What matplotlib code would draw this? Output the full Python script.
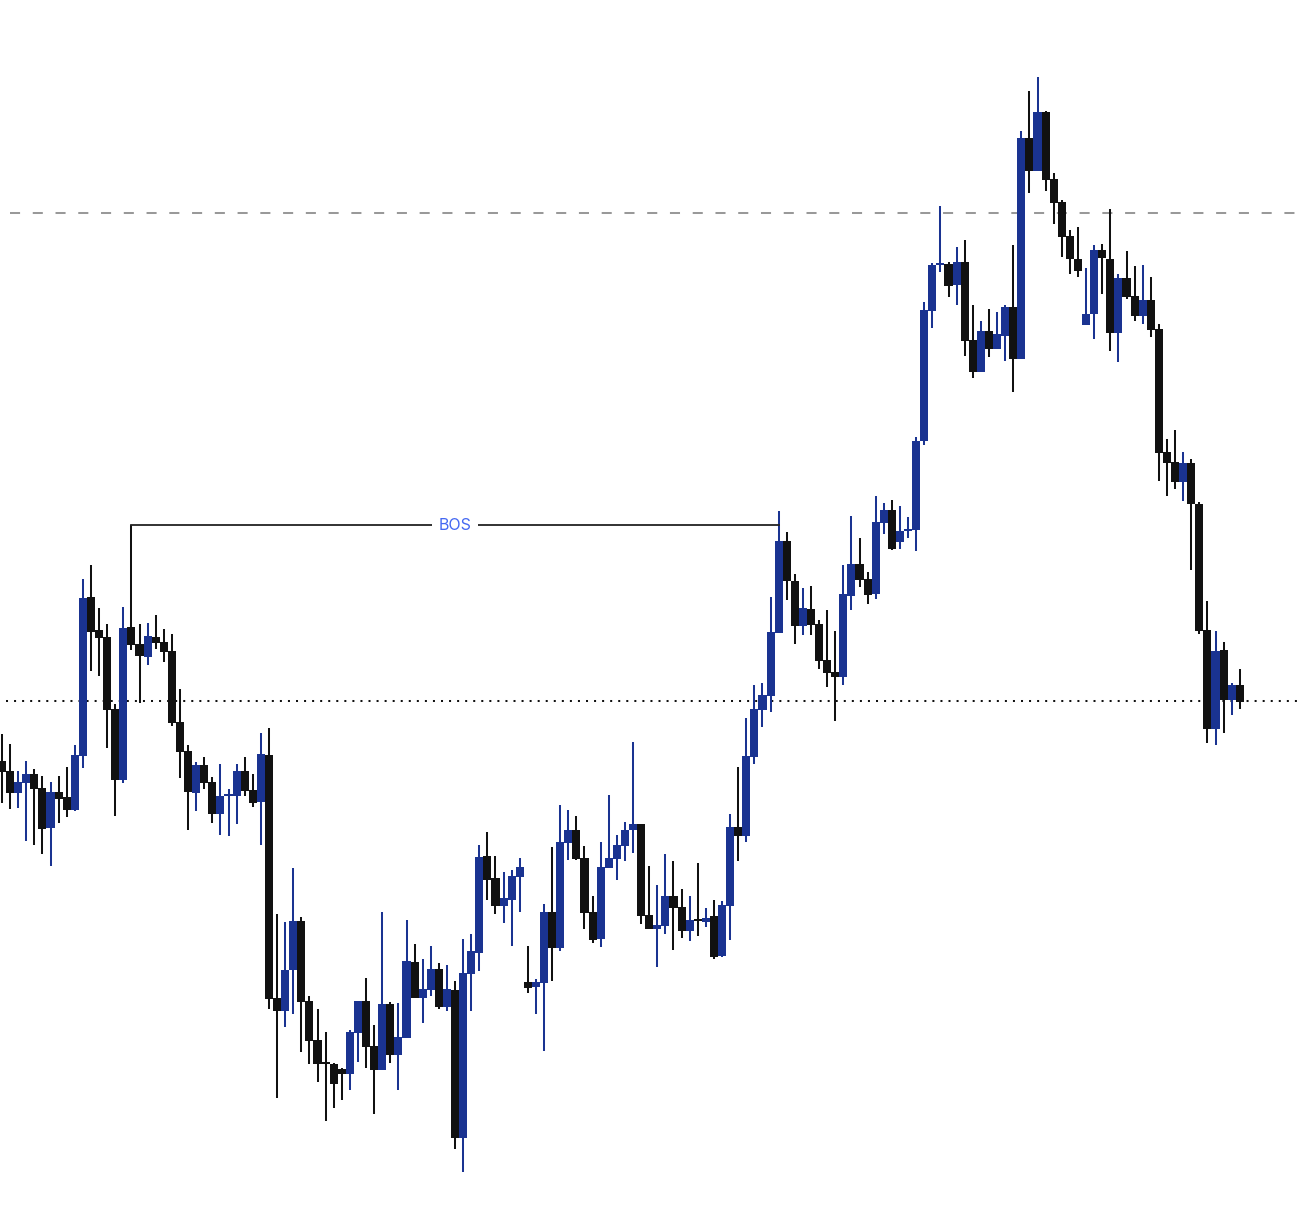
import matplotlib
matplotlib.use("Agg")
import matplotlib.pyplot as plt

# OHLC values (price units; higher = up)
Y0 = 1220
opens_px = [761,771,793,783,774,788,828,792,797,810,756,597,630,637,709,780,627,644,657,637,
            642,651,722,751,793,765,782,814,796,796,771,790,802,755,998,1011,970,921,1001,1040,
            1062,1064,1069,1074,1033,1001,1046,1070,1004,1055,1038,962,998,990,969,1007,990,1138,974,953,
            856,878,906,900,877,982,987,983,912,948,843,830,858,912,939,868,859,846,830,824,
            915,929,926,896,907,931,919,922,916,956,906,827,836,757,710,696,633,541,581,626,
            609,624,660,672,677,596,564,579,594,523,510,542,531,530,441,311,265,264,285,262,
            340,372,331,349,336,307,359,138,171,112,179,202,236,259,325,314,250,259,333,278,
            296,316,300,329,452,462,482,463,504,630,729,650,700,685]
closes_px = [772,793,782,774,789,829,792,799,810,755,598,632,638,710,780,628,645,656,636,643,
             652,723,752,792,765,783,814,796,794,771,791,803,754,999,1011,970,921,1002,1041,1064,
             1064,1084,1074,1032,1001,1047,1070,1004,1055,1037,961,998,989,969,1007,989,1138,973,951,857,
             880,906,898,876,867,988,982,912,948,842,830,859,913,940,867,858,845,830,824,916,
             929,925,896,908,931,920,921,918,957,905,827,836,756,709,695,632,541,581,626,608,
             625,661,673,677,594,564,580,595,522,510,549,531,529,441,310,265,263,286,262,341,
             372,331,349,334,307,359,138,171,112,180,203,237,259,271,314,250,258,333,278,297,
             316,300,330,453,463,482,463,504,631,729,651,700,685,702]
highs_px = [734,744,771,761,769,776,782,776,767,745,579,565,608,624,704,607,525,624,623,615,
            629,634,689,745,762,757,777,764,789,764,757,774,733,728,914,922,868,917,996,1009,
            1032,1063,1068,1030,1001,978,1025,912,1002,1003,920,944,959,946,963,965,981,939,934,845,
            832,856,872,870,858,946,979,904,847,805,810,816,846,896,842,795,835,822,742,824,
            866,885,854,861,889,896,863,908,900,901,814,767,718,685,683,597,511,532,574,588,
            586,620,610,631,565,516,538,572,496,503,500,506,517,437,302,263,206,262,247,240,
            305,321,309,312,305,245,131,91,77,111,173,200,230,227,268,245,244,209,274,251,
            266,265,277,324,439,430,452,459,502,601,631,642,683,669]
lows_px = [803,809,808,841,845,854,866,823,817,811,768,671,676,748,816,783,650,703,665,649,
           662,726,778,830,811,789,823,835,836,824,796,807,845,1009,1098,1027,1014,1052,1064,1082,
           1121,1108,1100,1090,1062,1068,1114,1070,1063,1090,1038,998,1023,996,1009,1011,1149,1172,1011,971,
           900,914,923,946,912,993,1014,1051,981,951,860,860,929,943,947,868,880,861,853,924,
           929,967,934,950,938,941,936,927,959,957,940,861,842,764,727,712,633,600,644,635,
           635,669,687,721,685,610,587,604,599,534,550,549,538,551,445,328,272,297,305,356,
           378,372,357,349,361,392,359,193,171,191,224,257,274,277,325,339,294,351,362,299,
           321,324,337,481,496,489,501,570,634,743,745,733,715,709]

opens = [Y0 - v for v in opens_px]
closes = [Y0 - v for v in closes_px]
highs = [Y0 - v for v in highs_px]
lows = [Y0 - v for v in lows_px]

level_dotted = Y0 - 701
level_dashed = Y0 - 213
bos_from, bos_to = 16, 96
bos_level = Y0 - 525
bos_label = "BOS"

BLUE = "#1a3391"
BLACK = "#111111"

fig = plt.figure(figsize=(13.02, 12.2), dpi=100)
ax = fig.add_axes([0, 0, 1, 1])
ax.set_axis_off()
step = 8.09
ax.set_xlim(-2 / step, (1302 - 2) / step)
ax.set_ylim(0, 1220)

n = len(opens)
for i in range(n):
    o, c, h, l = opens[i], closes[i], highs[i], lows[i]
    col = BLUE if c > o else BLACK
    ax.vlines(i, l, h, color=col, lw=1.45, zorder=2)
    bottom = min(o, c)
    height = max(abs(c - o), 2)
    ax.bar(i, height, bottom=bottom, width=1.0, color=col, edgecolor='none',
           linewidth=0, zorder=3)

ax.plot([(6 - 2) / step, (1302 - 2) / step], [level_dotted] * 2, color="#111111",
        lw=1.45, linestyle=(0, (1, 3)), zorder=1)
ax.plot([(10 - 2) / step, (1302 - 2) / step], [level_dashed] * 2, color="#999999",
        lw=1.45, linestyle=(0, (5, 6.3)), zorder=1)

ax.plot([bos_from, bos_to], [bos_level] * 2, color="#222222", lw=1.3, zorder=4)
ax.text((bos_from + bos_to) / 2, bos_level - 1, bos_label, color="#4468f2",
        fontsize=11.5, family="Inter", ha="center", va="center", zorder=5,
        bbox=dict(boxstyle="square,pad=0.4", fc="white", ec="none"))

fig.savefig("out.png", dpi=100)
